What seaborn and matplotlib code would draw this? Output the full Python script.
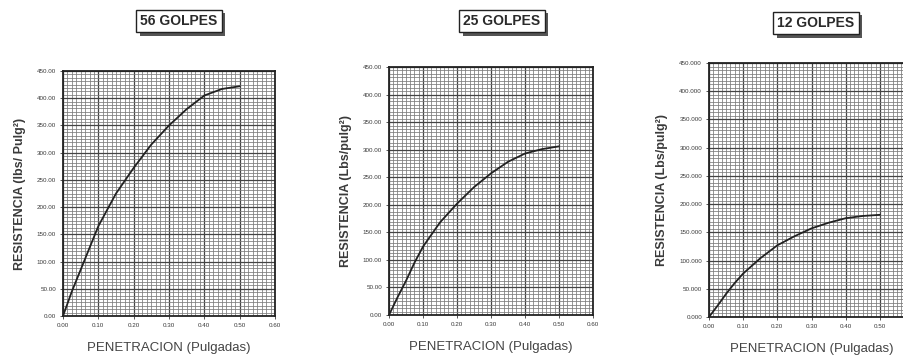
import numpy as np
import pandas as pd
import matplotlib
matplotlib.use("Agg")
import matplotlib.pyplot as plt
import seaborn as sns
from matplotlib.ticker import MultipleLocator, FormatStrFormatter
from matplotlib import patheffects

sns.set_theme(style="white")
plt.rcParams['font.family'] = ['Liberation Sans', 'DejaVu Sans']

titles = ["56 GOLPES", "25 GOLPES", "12 GOLPES"]
ylabels = ["RESISTENCIA (lbs/ Pulg²)", "RESISTENCIA (Lbs/pulg²)", "RESISTENCIA (Lbs/pulg²)"]
xlabel = "PENETRACION (Pulgadas)"

pen_56 = [0.0, 0.025, 0.05, 0.075, 0.10, 0.15, 0.20, 0.25, 0.30, 0.35, 0.40, 0.45, 0.50]
res_56 = [0.0, 45, 85, 125, 165, 225, 272, 315, 350, 380, 405, 417, 422]

pen_25 = [0.0, 0.025, 0.05, 0.075, 0.10, 0.15, 0.20, 0.25, 0.30, 0.35, 0.40, 0.45, 0.50]
res_25 = [0.0, 32, 62, 95, 124, 168, 202, 232, 257, 278, 293, 301, 306]

pen_12 = [0.0, 0.025, 0.05, 0.075, 0.10, 0.15, 0.20, 0.25, 0.30, 0.35, 0.40, 0.45, 0.50]
res_12 = [0.0, 20, 41, 60, 77, 104, 127, 143, 157, 167, 175, 179, 181]

y_fmt = ["%.2f", "%.2f", "%.3f"]

positions = [
    [63/904, 47/363, 212/904, 245/363],
    [389/904, 48/363, 204/904, 248/363],
    [709/904, 46/363, 205/904, 254/363],
]
title_pos = [(179/904, 1 - 21/363), (502/904, 1 - 21/363), (816/904, 1 - 23/363)]

fig = plt.figure(figsize=(9.04, 3.63), dpi=100)
datasets = [(pen_56, res_56), (pen_25, res_25), (pen_12, res_12)]
txt_color = "#3a3a3a"

for i, (xs, ys) in enumerate(datasets):
    ax = fig.add_axes(positions[i])
    df = pd.DataFrame({"x": xs, "y": ys})
    sns.lineplot(data=df, x="x", y="y", ax=ax, color="#222222", linewidth=1.3, zorder=5)
    ax.set_xlim(0, 0.6)
    ax.set_ylim(0, 450)
    ax.xaxis.set_major_locator(MultipleLocator(0.1))
    ax.xaxis.set_minor_locator(MultipleLocator(0.0125))
    ax.yaxis.set_major_locator(MultipleLocator(50))
    ax.yaxis.set_minor_locator(MultipleLocator(6.25))
    ax.xaxis.set_major_formatter(FormatStrFormatter("%.2f"))
    ax.yaxis.set_major_formatter(FormatStrFormatter(y_fmt[i]))
    ax.grid(which="major", color="#444444", linewidth=0.9)
    ax.grid(which="minor", color="#7a7a7a", linewidth=0.55)
    ax.set_axisbelow(True)
    ax.tick_params(axis="both", which="major", labelsize=4.5, colors=txt_color, length=2, pad=3, width=0.6)
    ax.tick_params(which="minor", length=0)
    ax.tick_params(axis="both", which="major", bottom=True, left=True)
    for s in ax.spines.values():
        s.set_color("#222222")
        s.set_linewidth(1.3)
    ax.set_xlabel(xlabel, fontsize=9.5, color="#444444", labelpad=10)
    ax.set_ylabel(ylabels[i], fontsize=9, color=txt_color, fontweight="bold", labelpad=8)

    t = fig.text(title_pos[i][0], title_pos[i][1], titles[i], ha="center", va="center",
                 fontsize=10, fontweight="bold", color="#2a2a2a",
                 bbox=dict(boxstyle="square,pad=0.3", fc="white", ec="#222222", lw=1.0))
    t.get_bbox_patch().set_path_effects([
        patheffects.SimplePatchShadow(offset=(2.5, -2.5), shadow_rgbFace="#555555", alpha=1.0),
        patheffects.Normal()])

fig.savefig("out.png", dpi=100, facecolor="white")
